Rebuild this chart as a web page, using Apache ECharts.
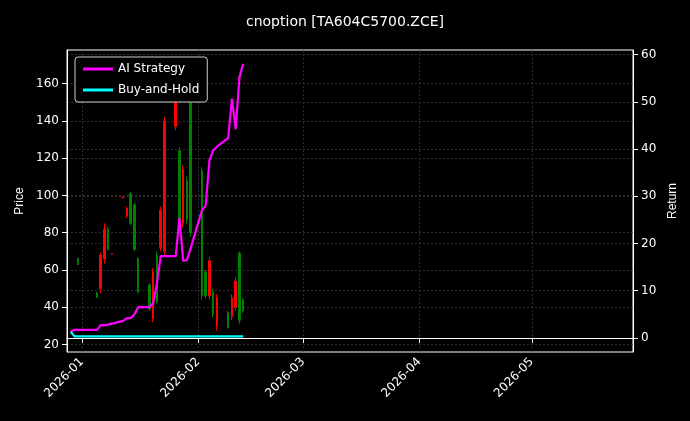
<!DOCTYPE html>
<html><head><meta charset="utf-8">
<script src="https://cdn.jsdelivr.net/npm/echarts@6/dist/echarts.min.js"></script>
<style>html,body{margin:0;background:#000}#c{width:690px;height:421px}</style></head>
<body><div id="c"></div>
<script>
// candles: date, open, close, low, high
const candleDates = ['2025-12-31','2026-01-05','2026-01-06','2026-01-07','2026-01-08','2026-01-09','2026-01-12','2026-01-13','2026-01-14','2026-01-15','2026-01-16','2026-01-19','2026-01-20','2026-01-21','2026-01-22','2026-01-23','2026-01-26','2026-01-27','2026-01-28','2026-01-29','2026-01-30','2026-02-02','2026-02-03','2026-02-04','2026-02-05','2026-02-06','2026-02-09','2026-02-10','2026-02-11','2026-02-12','2026-02-13'];
const candleOpen  = [66,48,50,66,82,68.5,98.5,89,101,95,66,52,34,68,72,70,137,124,85,108,153,113,59,46,48,30,37,35,40,69,44];
const candleClose = [63,45.5,68,82,71,68.8,99,93,85,71,48,39,59,43,92,140,153,87,114,87,80,46,46,65,36,45,29,45,54,33,38];
const candleLow   = [62.6,45,47.5,63.6,70.6,68.3,98.5,88,84,70,47.5,38,32,42,70,67,135,85,83,85,77.6,44,45,44,34.5,27.5,28.6,33,38,31,37];
const candleHigh  = [66.8,48,69.5,85,83,68.8,99.5,94,102,96,67,53,61,70,94,142,155,126,116,110,155,115,60,67,50,47,38,47,56,70,45];
const lineDates = ['2025-12-29','2025-12-30','2025-12-31','2026-01-05','2026-01-06','2026-01-07','2026-01-08','2026-01-09','2026-01-12','2026-01-13','2026-01-14','2026-01-15','2026-01-16','2026-01-19','2026-01-20','2026-01-21','2026-01-22','2026-01-23','2026-01-26','2026-01-27','2026-01-28','2026-01-29','2026-01-30','2026-02-02','2026-02-03','2026-02-04','2026-02-05','2026-02-06','2026-02-09','2026-02-10','2026-02-11','2026-02-12','2026-02-13'];
const aiReturn = [1.3,1.7,1.7,1.7,2.7,2.7,2.8,3.0,3.6,4.2,4.2,5.0,6.5,6.5,7.4,11.6,17.3,17.3,17.3,25.4,16.3,16.5,19,27,28,37.6,39.7,40.5,42.3,50.7,44.2,55.2,58.1];
const bhReturn = [1.3,0.3,0.3,0.3,0.3,0.3,0.3,0.3,0.3,0.3,0.3,0.3,0.3,0.3,0.3,0.3,0.3,0.3,0.3,0.3,0.3,0.3,0.3,0.3,0.3,0.3,0.3,0.3,0.3,0.3,0.3,0.3,0.3];
const monthTicks = ['2026-01-01','2026-02-01','2026-03-01','2026-04-01','2026-05-01'];
const priceTicks = [20,40,60,80,100,120,140,160];
const returnTicks = [0,10,20,30,40,50,60];

const t = s => Date.UTC(+s.slice(0,4), +s.slice(5,7)-1, +s.slice(8,10));
const grid = {lineStyle:{color:'#3a3a3a',type:[2,2],width:0.8}};
const chart = echarts.init(document.getElementById('c'));
chart.setOption({
  backgroundColor:'#000',
  animation:false,
  title:{text:'cnoption [TA604C5700.ZCE]',left:'center',top:10,textStyle:{color:'#fff',fontSize:14,fontWeight:'normal',fontFamily:'DejaVu Sans'}},
  legend:{left:75,top:57,orient:'vertical',itemWidth:30,itemHeight:3,itemGap:9,
    backgroundColor:'#000',borderColor:'#ccc',borderWidth:1,borderRadius:3,padding:[6,8],
    textStyle:{color:'#fff',fontSize:12,fontFamily:'DejaVu Sans'},
    data:[{name:'AI Strategy',icon:'rect'},{name:'Buy-and-Hold',icon:'rect'}]},
  grid:{left:67,right:57,top:50,bottom:69,show:true,borderColor:'#fff',borderWidth:1,backgroundColor:'transparent'},
  xAxis:{type:'value',min:t('2025-12-28'),max:t('2026-05-28'),
    axisLine:{lineStyle:{color:'#fff'}},axisTick:{customValues:monthTicks.map(t),lineStyle:{color:'#fff'}},
    axisLabel:{customValues:monthTicks.map(t),rotate:45,color:'#fff',fontSize:12,fontFamily:'DejaVu Sans',
      formatter:v=>{const d=new Date(v);return d.getUTCFullYear()+'-'+String(d.getUTCMonth()+1).padStart(2,'0');}},
    splitLine:{show:true,...grid}},
  yAxis:[
    {type:'value',min:16,max:178,name:'Price',nameLocation:'middle',nameGap:38,nameTextStyle:{color:'#fff',fontSize:12},
      axisLine:{show:true,lineStyle:{color:'#fff'}},axisTick:{show:true,customValues:priceTicks},
      axisLabel:{customValues:priceTicks,color:'#fff',fontSize:12,fontFamily:'DejaVu Sans'},splitLine:{show:true,...grid}},
    {type:'value',min:-3,max:61,name:'Return',nameLocation:'middle',nameGap:32,nameTextStyle:{color:'#fff',fontSize:12},
      axisLine:{show:true,lineStyle:{color:'#fff'}},axisTick:{show:true,customValues:returnTicks},
      axisLabel:{customValues:returnTicks,color:'#fff',fontSize:12,fontFamily:'DejaVu Sans'},splitLine:{show:true,...grid}}
  ],
  series:[
    {type:'candlestick',yAxisIndex:0,barWidth:2,
      itemStyle:{color:'#ff0000',color0:'#008000',borderColor:'#ff0000',borderColor0:'#008000',borderWidth:1},
      data:candleDates.map((d,i)=>[t(d),candleOpen[i],candleClose[i],candleLow[i],candleHigh[i]])},
    {name:'AI Strategy',type:'line',yAxisIndex:1,symbol:'none',lineStyle:{color:'#ff00ff',width:2.2},itemStyle:{color:'#ff00ff'},
      data:lineDates.map((d,i)=>[t(d),aiReturn[i]])},
    {name:'Buy-and-Hold',type:'line',yAxisIndex:1,symbol:'none',lineStyle:{color:'#00ffff',width:2.2},itemStyle:{color:'#00ffff'},
      data:lineDates.map((d,i)=>[t(d),bhReturn[i]])}
  ]
});
</script></body></html>
